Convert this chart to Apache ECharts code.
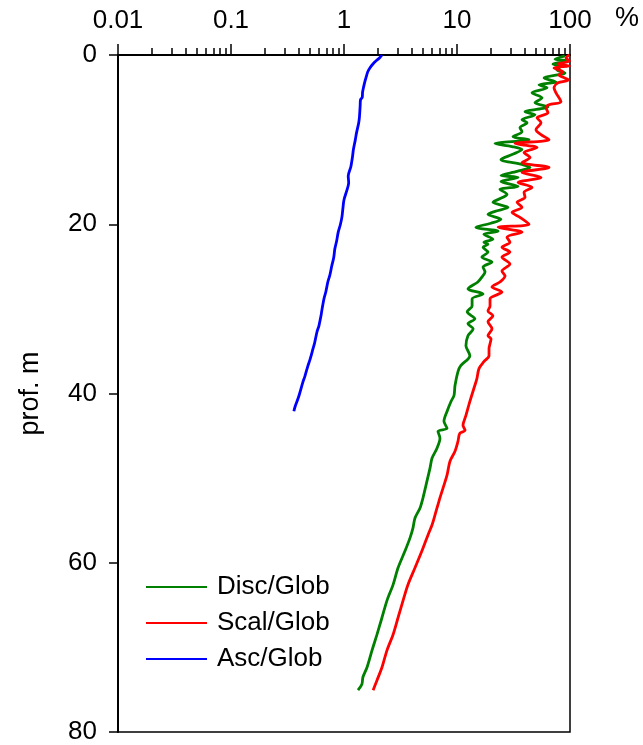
<!DOCTYPE html>
<html>
<head>
<meta charset="utf-8">
<script src="https://cdn.jsdelivr.net/npm/echarts@6/dist/echarts.min.js"></script>
<style>
  html, body { margin: 0; padding: 0; background: #fff; }
  #chart { width: 643px; height: 745px; }
</style>
</head>
<body>
<div id="chart"></div>
<script>
// Depth profiles (m) of the ratios to the global signal (%)
const depthDisc = [0.1,0.5,0.7,1.06,1.41,1.76,2.12,2.71,3.18,3.53,
  3.88,4.47,5.06,5.65,6.12,6.71,7.06,7.65,8.0,8.59,
  9.06,9.65,10.0,10.47,10.82,11.18,11.76,12.35,12.94,13.29,
  13.76,14.24,14.47,14.94,15.53,15.88,16.47,16.82,17.41,18.0,
  18.47,18.82,19.41,19.88,20.35,20.82,21.18,21.76,22.12,22.35,
  22.71,23.29,23.88,24.47,25.06,25.65,26.24,26.82,27.65,28.24,
  28.82,29.65,30.35,31.18,31.76,32.35,33.18,34.35,35.53,36.71,
  37.41,39.06,40.24,40.94,42.12,43.29,44.12,44.47,45.29,46.47,
  47.65,48.82,50.82,52.35,53.53,54.71,55.88,57.06,58.59,60.59,
  62.59,64.47,66.47,68.47,70.35,72.35,73.53,74.35,75.06];
const pctDisc = [90,73.7,96,70.7,81.5,76.7,90.3,58.9,75.2,53.2,
  62.6,46.1,56.6,49.0,63.9,40.0,49.0,37.6,41.7,36.1,
  37.6,31.3,43.4,21.7,30.7,37.6,30.7,24.5,37.6,44.3,
  34.0,24.5,34.7,24.5,34.7,24.0,27.7,25.5,20.8,28.3,
  21.7,18.8,24.5,20.0,14.7,23.1,17.3,20.8,17.3,18.8,
  17.0,18.8,16.6,20.4,17.0,17.7,16.6,15.3,12.5,17.0,
  13.6,13.6,12.3,14.4,12.5,13.9,12.5,12.0,13.0,10.8,
  10.2,9.6,9.41,8.85,8.16,7.67,8.16,6.79,7.07,6.65,
  6.01,5.77,5.32,5.0,4.71,4.25,4.08,3.84,3.47,3.01,
  2.72,2.40,2.17,1.96,1.77,1.60,1.47,1.44,1.33];

const depthScal = [0,0.35,0.7,1.06,1.29,1.53,2.0,2.35,2.94,3.29,
  3.88,4.47,5.53,5.88,6.24,6.82,7.41,8.0,8.82,9.41,
  10.0,10.47,10.94,11.53,12.12,12.71,13.29,13.88,14.47,15.06,
  15.65,16.24,16.82,17.41,18.0,18.59,19.18,20.0,20.35,20.94,
  21.53,22.12,22.71,23.29,23.88,24.71,25.53,26.12,26.82,27.41,
  28.0,28.82,29.65,30.24,30.82,31.53,32.35,33.18,33.53,34.71,
  35.53,36.24,37.06,38.24,39.41,40.94,42.59,43.76,44.35,44.71,
  45.65,46.82,48.0,49.65,51.18,52.71,54.35,55.53,56.71,58.59,
  60.59,62.59,64.47,66.47,68.47,70.35,72.35,73.88,75.06];
const pctScal = [99,92.2,99,78.3,99,72.2,86.7,79.9,97,78.3,
  72.2,75.2,83.2,65.2,61.4,63.9,51.1,55.4,50.0,55.4,
  65.2,32.6,51.1,39.2,44.3,37.6,65.2,37.6,55.4,34.7,
  46.1,39.2,40.0,34.0,37.6,30.7,36.1,43.4,23.1,37.6,
  27.7,29.4,25.0,29.4,25.0,29.4,25.0,26.6,24.0,20.4,
  25.0,19.6,19.6,18.8,20.8,18.8,20.4,18.8,20.0,19.2,
  19.2,17.3,15.65,15.0,14.1,13.0,12.0,11.3,11.8,10.6,
  10.2,9.6,8.67,8.16,7.52,6.93,6.39,6.01,5.54,4.90,
  4.25,3.68,3.33,3.01,2.72,2.40,2.17,1.96,1.81];

const depthAsc = [0,0.3,0.6,1.0,1.5,2.0,2.5,3.0,3.8,4.4,
  5.0,5.3,6.0,7.3,8.0,9.2,10.0,11.2,12.0,13.2,
  14.3,15.1,16.0,17.1,18.0,19.1,20.0,20.9,22.0,22.9,
  24.0,24.9,26.0,26.8,28.0,28.8,30.0,30.8,32.0,32.7,
  34.0,34.7,36.0,36.7,38.0,38.6,40.0,40.6,41.5,42.1];
const pctAsc = [2.17,2.08,1.96,1.82,1.70,1.62,1.58,1.54,1.49,1.46,
  1.45,1.40,1.39,1.37,1.35,1.29,1.26,1.21,1.19,1.15,
  1.09,1.10,1.06,1.00,0.98,0.96,0.93,0.89,0.86,0.83,
  0.81,0.78,0.75,0.72,0.69,0.665,0.64,0.626,0.60,0.577,
  0.55,0.532,0.50,0.48,0.45,0.434,0.405,0.392,0.37,0.36];

const seriesNames = ['Disc/Glob', 'Scal/Glob', 'Asc/Glob'];
const seriesColors = ['#008000', '#ff0000', '#0000ff'];

// Top (log) axis: labelled decades and the 2..9 minor ticks between them
const decadeTicks = [0.01, 0.1, 1, 10, 100];
const decadeLabels = ['0.01', '0.1', '1', '10', '100'];
const minorTicks = [];
for (let e = -2; e < 2; e++) {
  for (let m = 2; m <= 9; m++) minorTicks.push(m * Math.pow(10, e));
}
const depthTicks = [0, 20, 40, 60, 80];

const FONT = '"Liberation Sans", Arial, Helvetica, sans-serif';

function pairs(pct, depth) {
  return pct.map((v, i) => [v, depth[i]]);
}

const chart = echarts.init(document.getElementById('chart'), null, { renderer: 'canvas' });

const profiles = [
  [pctDisc, depthDisc],
  [pctScal, depthScal],
  [pctAsc, depthAsc]
];

chart.setOption({
  animation: false,
  backgroundColor: '#fff',
  grid: {
    left: 118, right: 73, top: 55, bottom: 10,
    show: true, borderColor: '#000', borderWidth: 1.5,
    backgroundColor: 'transparent'
  },
  xAxis: [
    {
      type: 'log', logBase: 10, min: 0.01, max: 100, position: 'top',
      axisLine: { show: true, lineStyle: { color: '#000', width: 2 } },
      axisTick: { show: true, length: 11, customValues: decadeTicks,
        lineStyle: { color: '#000', width: 1.5 } },
      axisLabel: {
        customValues: decadeTicks,
        formatter: function (v) {
          let best = 0;
          decadeTicks.forEach((t, i) => {
            if (Math.abs(Math.log10(t) - Math.log10(v)) < Math.abs(Math.log10(decadeTicks[best]) - Math.log10(v))) best = i;
          });
          return decadeLabels[best];
        },
        fontSize: 26, color: '#000', margin: 21, fontFamily: FONT
      },
      splitLine: { show: false }
    },
    {
      type: 'log', logBase: 10, min: 0.01, max: 100, position: 'top',
      axisLine: { show: false },
      axisTick: { show: true, length: 7, customValues: minorTicks,
        lineStyle: { color: '#000', width: 1.5 } },
      axisLabel: { show: false },
      splitLine: { show: false }
    }
  ],
  yAxis: {
    type: 'value', inverse: true, min: 0, max: 80, interval: 20,
    name: 'prof. m', nameLocation: 'middle', nameGap: 74,
    nameTextStyle: { fontSize: 27, color: '#000', fontFamily: FONT },
    axisLine: { show: true, lineStyle: { color: '#000', width: 2 } },
    axisTick: { show: true, length: 9, lineStyle: { color: '#000', width: 1.5 } },
    axisLabel: { fontSize: 26, color: '#000', margin: 21, fontFamily: FONT,
      customValues: depthTicks },
    splitLine: { show: false }
  },
  legend: {
    orient: 'vertical', left: 141, top: 568,
    icon: 'rect', itemWidth: 61, itemHeight: 2, itemGap: 8,
    data: seriesNames,
    textStyle: { fontSize: 26, color: '#000', fontFamily: FONT,
      lineHeight: 28, padding: [0, 0, 0, 5] }
  },
  graphic: [
    { type: 'text', left: 615, top: 5,
      style: { text: '%', fontSize: 27, fill: '#000', fontFamily: FONT } }
  ],
  series: profiles.map((p, i) => ({
    name: seriesNames[i],
    type: 'line',
    xAxisIndex: 0,
    data: pairs(p[0], p[1]),
    showSymbol: false,
    smooth: 0.3,
    color: seriesColors[i],
    lineStyle: { width: 2.8, color: seriesColors[i] }
  }))
});
</script>
</body>
</html>
